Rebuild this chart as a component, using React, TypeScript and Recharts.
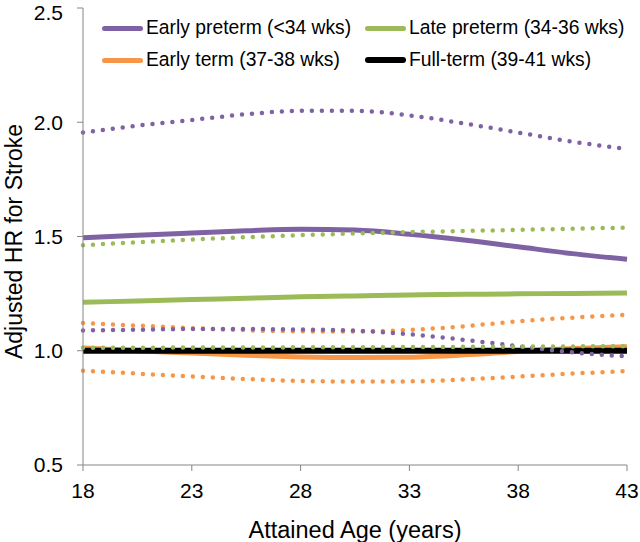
import { Label, Line, LineChart, XAxis, YAxis } from 'recharts';

// Attained age (years) at which the curves were read
const ages = [18, 20.5, 23, 25.5, 28, 30.5, 33, 35.5, 38, 40.5, 43];

// Adjusted HR + 95% CI per gestational age group
const earlyPreterm = [1.494, 1.505, 1.515, 1.525, 1.532, 1.528, 1.51, 1.485, 1.455, 1.425, 1.4];
const earlyPretermHi = [1.955, 1.985, 2.01, 2.035, 2.05, 2.05, 2.03, 1.995, 1.955, 1.915, 1.883];
const earlyPretermLo = [1.089, 1.092, 1.095, 1.095, 1.093, 1.088, 1.072, 1.048, 1.02, 0.993, 0.975];

const latePreterm = [1.212, 1.218, 1.224, 1.23, 1.236, 1.24, 1.244, 1.247, 1.249, 1.251, 1.253];
const latePretermHi = [1.462, 1.475, 1.487, 1.497, 1.506, 1.513, 1.519, 1.524, 1.529, 1.534, 1.539];
const latePretermLo = [1.013, 1.013, 1.014, 1.014, 1.015, 1.015, 1.016, 1.017, 1.018, 1.019, 1.02];

const earlyTerm = [1.012, 1.0, 0.99, 0.98, 0.973, 0.97, 0.972, 0.982, 0.997, 1.01, 1.018];
const earlyTermHi = [1.121, 1.11, 1.099, 1.09, 1.085, 1.084, 1.091, 1.107, 1.129, 1.145, 1.158];
const earlyTermLo = [0.912, 0.9, 0.887, 0.876, 0.868, 0.865, 0.866, 0.874, 0.887, 0.9, 0.911];

const fullTerm = [1, 1, 1, 1, 1, 1, 1, 1, 1, 1, 1];

const xTicks = [18, 23, 28, 33, 38, 43];
const yTicks = [0.5, 1.0, 1.5, 2.0, 2.5];

const PURPLE = '#7f62a3';
const GREEN = '#9bbb59';
const ORANGE = '#f79646';
const BLACK = '#000000';
const AXIS = '#868686';
const FONT = '"Liberation Sans", Arial, sans-serif';

const data = ages.map((age, i) => ({
  age,
  ep: earlyPreterm[i], epHi: earlyPretermHi[i], epLo: earlyPretermLo[i],
  lp: latePreterm[i], lpHi: latePretermHi[i], lpLo: latePretermLo[i],
  et: earlyTerm[i], etHi: earlyTermHi[i], etLo: earlyTermLo[i],
  ft: fullTerm[i],
}));

// solid estimates first, then the dotted confidence bands on top
const solids = [
  { key: 'ep', color: PURPLE, width: 5 },
  { key: 'lp', color: GREEN, width: 5 },
  { key: 'et', color: ORANGE, width: 5 },
  { key: 'ft', color: BLACK, width: 6 },
];
const dotted = [
  { key: 'etHi', color: ORANGE },
  { key: 'etLo', color: ORANGE },
  { key: 'epHi', color: PURPLE },
  { key: 'epLo', color: PURPLE },
  { key: 'lpHi', color: GREEN },
  { key: 'lpLo', color: GREEN },
];

const legendItems = [
  { name: 'Early preterm (<34 wks)', color: PURPLE, width: 5, left: 102, top: 28 },
  { name: 'Late preterm (34-36 wks)', color: GREEN, width: 5, left: 365, top: 28 },
  { name: 'Early term (37-38 wks)', color: ORANGE, width: 5, left: 102, top: 60 },
  { name: 'Full-term (39-41 wks)', color: BLACK, width: 6, left: 365, top: 60 },
];

const tickStyle = { fontSize: 21, fill: '#000', fontFamily: FONT };
const titleStyle = { fontSize: 23.5, fill: '#000', fontFamily: FONT };

export default function App() {
  return (
    <div style={{ position: 'absolute', left: 0, top: 0, width: 640, height: 542, background: '#fff', fontFamily: FONT }}>
      <LineChart width={640} height={542} data={data} margin={{ top: 8, right: 13, left: 0, bottom: 0 }}>
        <XAxis
          dataKey="age" type="number" domain={[18, 43]} ticks={xTicks} height={77}
          stroke={AXIS} tickSize={6} tickMargin={12} tick={tickStyle}
        >
          <Label value="Attained Age (years)" position="insideBottom" offset={4} style={titleStyle} />
        </XAxis>
        <YAxis
          type="number" domain={[0.5, 2.5]} ticks={yTicks} width={83}
          stroke={AXIS} tickSize={6} tickMargin={14} tick={tickStyle}
          tickFormatter={(v: number) => v.toFixed(1)}
        >
          <Label value="Adjusted HR for Stroke" angle={-90} position="insideLeft" offset={14} dy={5} textAnchor="middle" style={{ ...titleStyle, fontSize: 23 }} />
        </YAxis>
        {solids.map((s) => (
          <Line key={s.key} type="monotone" dataKey={s.key} stroke={s.color} strokeWidth={s.width} dot={false} activeDot={false} isAnimationActive={false} />
        ))}
        {dotted.map((s) => (
          <Line key={s.key} type="monotone" dataKey={s.key} stroke={s.color} strokeWidth={4.5} strokeDasharray="0 10" strokeLinecap="round" dot={false} activeDot={false} isAnimationActive={false} />
        ))}
      </LineChart>
      {legendItems.map((it) => (
        <div key={it.name} style={{ position: 'absolute', left: it.left, top: it.top, transform: 'translateY(-50%)', display: 'flex', alignItems: 'center', whiteSpace: 'nowrap' }}>
          <span style={{ display: 'inline-block', width: 41, height: it.width, borderRadius: 3, background: it.color, marginRight: 3 }} />
          <span style={{ fontSize: 19.3, color: '#000', lineHeight: '22px' }}>{it.name}</span>
        </div>
      ))}
    </div>
  );
}
